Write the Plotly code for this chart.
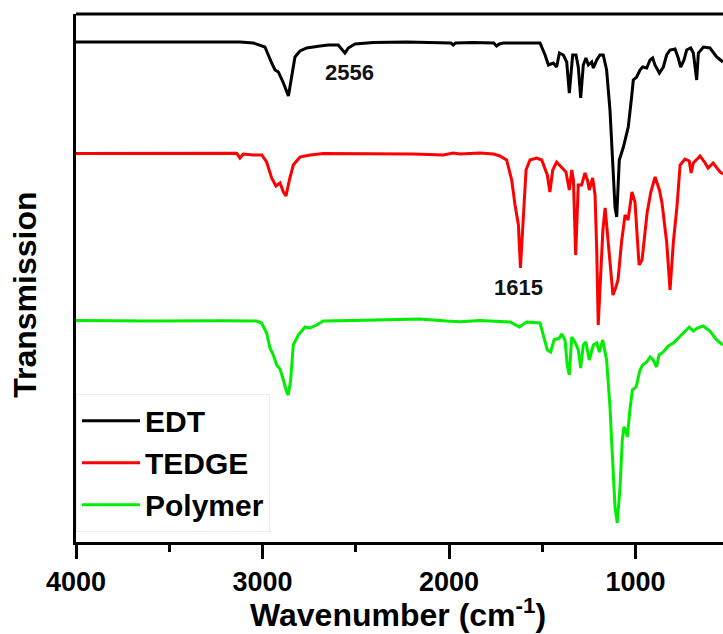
import plotly.graph_objects as go

# FTIR spectra, stacked (arbitrary transmission units, offset per sample)
edt_wn = [4000, 3700, 3400, 3121, 3049, 2987, 2951, 2933, 2915, 2888, 2861, 2844, 2826, 2799,
          2763, 2692, 2647, 2594, 2576, 2558, 2540, 2504, 2406, 2227, 1990, 1977, 1965, 1870,
          1760, 1745, 1730, 1709, 1512, 1485, 1467, 1441, 1423, 1408, 1387, 1369, 1355, 1337,
          1319, 1307, 1294, 1280, 1266, 1253, 1235, 1226, 1208, 1191, 1173, 1155, 1137, 1123,
          1110, 1101, 1087, 1065, 1039, 1021, 1012, 994, 976, 962, 940, 922, 908, 896, 872,
          851, 833, 815, 788, 771, 758, 740, 726, 704, 690, 672, 663, 636, 601, 565, 531]
edt_t = [500, 500, 499.7, 500, 499, 495, 479, 472, 470, 459, 446, 467, 485, 491,
         494, 496, 497, 497, 493, 489, 494, 498, 499.5, 500, 499, 497, 499, 499.5,
         499, 496, 498, 499, 499, 487, 477, 479, 475, 489, 487, 480, 449, 487,
         487, 475, 444, 477, 484, 477, 480, 474, 482, 487, 487, 472, 432, 382,
         335, 325, 382, 395, 415, 445, 462, 465, 472, 475, 474, 482, 484, 477, 469,
         475, 487, 492, 493, 484, 475, 482, 492, 494, 489, 462, 489, 495, 494, 485, 480]

tedge_wn = [4000, 3600, 3335, 3138, 3121, 3103, 3049, 3004, 2978, 2951, 2928, 2906, 2888, 2874,
            2856, 2835, 2799, 2745, 2674, 2263, 2191, 2031, 1977, 1941, 1834, 1762, 1727, 1691,
            1664, 1646, 1628, 1617, 1601, 1587, 1566, 1530, 1503, 1473, 1459, 1444, 1423, 1396,
            1373, 1355, 1342, 1333, 1321, 1307, 1289, 1271, 1258, 1248, 1230, 1217, 1208, 1200,
            1187, 1175, 1163, 1146, 1121, 1105, 1094, 1075, 1056, 1040, 1019, 1003, 981, 965,
            938, 918, 895, 872, 858, 833, 815, 797, 778, 761, 735, 712, 702, 690,
            654, 630, 611, 584, 547, 531]
tedge_t = [388.5, 388.7, 388.7, 388.7, 384, 388, 387, 387, 380, 364, 356, 359, 350, 346,
           362, 377, 385, 387, 388.5, 388.5, 388, 387, 389, 388, 389, 388, 386, 382,
           362, 337, 317, 274, 322, 372, 382, 384, 382, 367, 350, 372, 380, 374,
           370, 352, 372, 362, 287, 357, 357, 369, 362, 352, 364, 347, 292, 217,
           272, 312, 334, 300, 247, 255, 262, 300, 327, 322, 350, 340, 277, 282,
           329, 350, 365, 352, 339, 300, 252, 300, 335, 377, 383, 381, 369, 379,
           386, 380, 374, 379, 370, 368]

poly_wn = [4000, 3600, 3228, 3031, 3005, 2978, 2960, 2942, 2924, 2906, 2888, 2871, 2862, 2849,
           2835, 2808, 2772, 2746, 2710, 2674, 2513, 2156, 2013, 1941, 1834, 1673, 1623, 1584,
           1512, 1494, 1473, 1455, 1437, 1408, 1396, 1378, 1366, 1355, 1342, 1325, 1307, 1294,
           1280, 1266, 1248, 1226, 1208, 1194, 1176, 1155, 1137, 1123, 1110, 1098, 1083, 1071,
           1062, 1053, 1044, 1030, 1017, 997, 976, 962, 940, 922, 905, 887, 874, 851, 824,
           797, 771, 744, 712, 690, 669, 637, 601, 565, 531]
poly_t = [221.5, 221, 221.3, 221, 219, 209, 194, 187, 177, 173, 162, 150, 147, 162,
          197, 207, 215, 214, 217, 221, 221.5, 223, 221, 220.3, 221.5, 220, 215, 220,
          219, 207, 192, 190, 202, 204, 208, 202, 177, 167, 205, 200, 192, 174,
          197, 200, 182, 197, 199, 190, 202, 182, 135, 82, 35, 19, 55, 102,
          115, 112, 105, 132, 152, 155, 172, 177, 180, 185, 182, 175, 187, 190, 196,
          199, 204, 209, 215, 211, 214, 216, 211, 202, 197]

series_names = ["EDT", "TEDGE", "Polymer"]
series_colors = ["#000000", "#ff0000", "#00ee00"]

# peak labels: (text, wavenumber position, height)
peak_labels = [("2556", 2531, 470), ("1615", 1630, 255)]

FONT = "Liberation Sans, Arial, sans-serif"

fig = go.Figure()
for name, color, wn, t in zip(series_names, series_colors,
                              [edt_wn, tedge_wn, poly_wn], [edt_t, tedge_t, poly_t]):
    fig.add_trace(go.Scatter(x=wn, y=t, mode="lines", name=name,
                             line=dict(color=color, width=3)))

for text, xw, yv in peak_labels:
    fig.add_annotation(x=xw, y=yv, text=text, showarrow=False,
                       font=dict(family=FONT, size=22, color="#111", weight="bold"))

# y-axis title, placed slightly below the plot's vertical centre
fig.add_annotation(xref="paper", yref="paper", x=-0.079, y=0.468,
                   xanchor="center", yanchor="middle", textangle=-90,
                   text="Transmission", showarrow=False,
                   font=dict(family=FONT, size=32, color="black", weight="bold"))

# x-axis title as a paper annotation, anchored to the bottom edge
fig.add_annotation(xref="paper", yref="paper", x=0.498, y=-0.176,
                   xanchor="center", yanchor="bottom",
                   text="Wavenumber (cm<sup>-1</sup>)", showarrow=False,
                   font=dict(family=FONT, size=32, color="black", weight="bold"))

# top frame line (the right border falls outside the figure)
fig.add_shape(type="line", xref="paper", yref="paper", x0=0, x1=1, y0=1, y1=1,
              line=dict(color="black", width=3))

fig.update_layout(
    width=723, height=634,
    margin=dict(l=76, r=0, t=14, b=92),
    paper_bgcolor="white", plot_bgcolor="white",
    showlegend=True,
    legend=dict(x=0.0, y=0.281, xanchor="left", yanchor="top",
                bgcolor="white", bordercolor="#ececec", borderwidth=1,
                font=dict(family=FONT, size=30, color="black", weight="bold"),
                itemwidth=58, tracegroupgap=0),
    xaxis=dict(range=[4000, 531], showgrid=False, zeroline=False,
               showline=True, linecolor="black", linewidth=3,
               ticks="outside", ticklen=14, tickwidth=3, tickcolor="black",
               tickvals=[4000, 3000, 2000, 1000], ticklabelstandoff=0,
               minor=dict(ticks="outside", ticklen=7, tickwidth=3, tickcolor="black",
                          tickvals=[3500, 2500, 1500]),
               tickfont=dict(family=FONT, size=27, color="black", weight="bold")),
    yaxis=dict(range=[0, 528], showgrid=False, zeroline=False,
               showline=True, linecolor="black", linewidth=3,
               ticks="", showticklabels=False),
)

fig.write_html("out.html")
